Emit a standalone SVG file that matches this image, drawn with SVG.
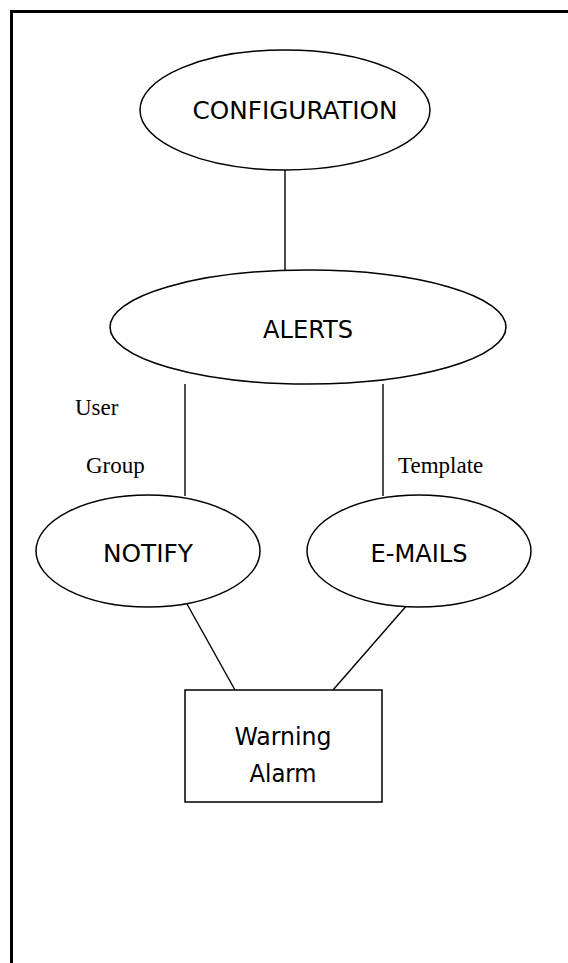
<svg xmlns="http://www.w3.org/2000/svg" width="568" height="963" viewBox="0 0 568 963">
<style>
.shape{fill:#fff;stroke:#000;stroke-width:1.5}
.conn line{stroke:#000;stroke-width:1.4}
.t{font-family:"DejaVu Sans Condensed","DejaVu Sans",sans-serif;font-stretch:condensed;font-size:25px;fill:#000;text-anchor:middle}
.s{font-family:"Liberation Serif","Times New Roman",serif;font-size:23px;fill:#000}
</style>
<rect width="568" height="963" fill="#fff"/>
<rect x="11.5" y="11.5" width="580" height="980" fill="none" stroke="#000" stroke-width="3"/>
<g id="connectors" class="conn">
<line x1="285" y1="170" x2="285" y2="270"/>
<line x1="185" y1="384" x2="185" y2="496"/>
<line x1="383" y1="384" x2="383" y2="496"/>
<line x1="187" y1="604" x2="235" y2="690"/>
<line x1="408" y1="604" x2="333" y2="690"/>
</g>
<g id="configuration">
<ellipse class="shape" cx="285" cy="110" rx="145" ry="60"/>
<text class="t" x="295" y="119" textLength="205" lengthAdjust="spacingAndGlyphs">CONFIGURATION</text>
</g>
<g id="alerts">
<ellipse class="shape" cx="308" cy="327" rx="198" ry="57"/>
<text class="t" x="308" y="338" textLength="90" lengthAdjust="spacingAndGlyphs">ALERTS</text>
</g>
<g id="notify">
<ellipse class="shape" cx="148" cy="551" rx="112" ry="56"/>
<text class="t" x="148" y="562" textLength="90" lengthAdjust="spacingAndGlyphs">NOTIFY</text>
</g>
<g id="emails">
<ellipse class="shape" cx="419" cy="551" rx="112" ry="56"/>
<text class="t" x="419" y="562" textLength="97" lengthAdjust="spacingAndGlyphs">E-MAILS</text>
</g>
<g id="warning-alarm">
<rect class="shape" x="185" y="690" width="197" height="112"/>
<text class="t" x="283" y="745" textLength="97" lengthAdjust="spacingAndGlyphs">Warning</text>
<text class="t" x="283" y="782" textLength="67" lengthAdjust="spacingAndGlyphs">Alarm</text>
</g>
<g id="labels">
<text class="s" x="75" y="415">User</text>
<text class="s" x="86" y="473">Group</text>
<text class="s" x="398" y="473">Template</text>
</g>
</svg>
